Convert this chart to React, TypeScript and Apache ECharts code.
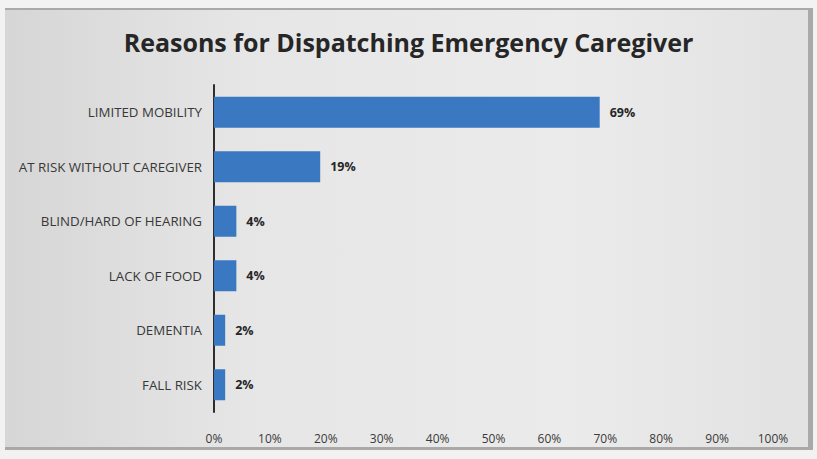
import React, { useEffect, useRef } from "react";
import * as echarts from "echarts";

const categories = [
  "LIMITED MOBILITY",
  "AT RISK WITHOUT CAREGIVER",
  "BLIND/HARD OF HEARING",
  "LACK OF FOOD",
  "DEMENTIA",
  "FALL RISK",
];
const values = [69, 19, 4, 4, 2, 2];
const xTicks = [0, 10, 20, 30, 40, 50, 60, 70, 80, 90, 100];
const title = "Reasons for Dispatching Emergency Caregiver";

export default function App() {
  const ref = useRef<HTMLDivElement>(null);
  useEffect(() => {
    if (!ref.current) return;
    const chart = echarts.init(ref.current, null, { renderer: "svg" });
    chart.setOption({
      animation: false,
      backgroundColor: "#f2f2f2",
      graphic: [
        {
          type: "rect",
          z: -10,
          shape: { x: 5, y: 8, width: 808, height: 442 },
          style: { fill: "#a9a9a9" },
        },
        {
          type: "rect",
          z: -9,
          shape: { x: 5, y: 10, width: 803, height: 437 },
          style: {
            fill: new echarts.graphic.LinearGradient(0, 0, 1, 0, [
              { offset: 0, color: "#d6d6d6" },
              { offset: 0.3, color: "#e6e6e6" },
              { offset: 0.7, color: "#ebebeb" },
              { offset: 1, color: "#e2e2e2" },
            ]),
          },
        },
      ],
      title: {
        text: title,
        left: "center",
        top: 24,
        textStyle: {
          fontFamily: "Open Sans",
          fontWeight: "bold",
          fontSize: 25,
          color: "#262626",
        },
      },
      grid: { left: 214, right: 44, top: 85, bottom: 47, containLabel: false },
      xAxis: {
        type: "value",
        min: 0,
        max: 100,
        interval: 10,
        axisLine: { show: false },
        axisTick: { show: false },
        splitLine: { show: false },
        axisLabel: {
          formatter: (v: number) => (xTicks.includes(v) ? v + "%" : ""),
          margin: 20,
          fontFamily: "Open Sans",
          fontSize: 12,
          color: "#3a3a3a",
        },
      },
      yAxis: {
        type: "category",
        data: categories,
        inverse: true,
        axisLine: { show: true, lineStyle: { color: "#2e2e2e", width: 2 } },
        axisTick: { show: false },
        axisLabel: {
          margin: 12,
          fontFamily: "Open Sans",
          fontSize: 13.3,
          color: "#383838",
        },
      },
      series: [
        {
          type: "bar",
          data: values,
          barWidth: 31,
          itemStyle: { color: "#3a79c2" },
          label: {
            show: true,
            position: "right",
            distance: 10,
            formatter: "{c}%",
            fontFamily: "Open Sans",
            fontWeight: "bold",
            fontSize: 12.5,
            color: "#262626",
          },
        },
      ],
    });
    return () => chart.dispose();
  }, []);
  return (
    <div
      ref={ref}
      style={{ position: "absolute", left: 0, top: 0, width: 817, height: 459 }}
    />
  );
}
